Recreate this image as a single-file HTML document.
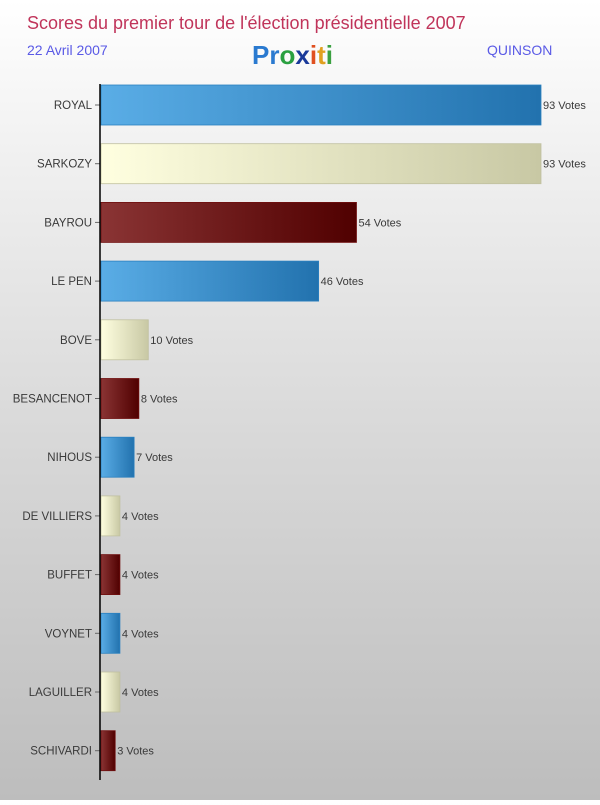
<!DOCTYPE html>
<html><head><meta charset="utf-8"><style>
body{margin:0;width:600px;height:800px;overflow:hidden;background:linear-gradient(#ffffff 0%,#f0f0f0 20%,#d8d8d8 55%,#bdbdbd 100%);font-family:"Liberation Sans",sans-serif}
</style></head><body>
<svg width="600" height="800">
<defs>
<linearGradient id="gb" x1="0" x2="1"><stop offset="0" stop-color="#5aade6"/><stop offset="1" stop-color="#2272ae"/></linearGradient>
<linearGradient id="gy" x1="0" x2="1"><stop offset="0" stop-color="#ffffe0"/><stop offset="1" stop-color="#c8c8a4"/></linearGradient>
<linearGradient id="gr" x1="0" x2="1"><stop offset="0" stop-color="#8a3434"/><stop offset="1" stop-color="#500000"/></linearGradient>
</defs>
<text x="27" y="29" font-size="18" fill="#c0345a">Scores du premier tour de l'élection présidentielle 2007</text>
<text x="27" y="55" font-size="14" fill="#5a5ae6">22 Avril 2007</text>
<text x="487" y="55" font-size="14" fill="#5a5ae6">QUINSON</text>
<g font-size="26" font-weight="bold" font-family="'Liberation Sans',sans-serif">
<text x="252" y="64"><tspan fill="#2a7ad0">P</tspan><tspan fill="#2a7ad0">r</tspan><tspan fill="#2aa040">o</tspan><tspan fill="#1a3a9a">x</tspan><tspan fill="#e05020">i</tspan><tspan fill="#e0a020">t</tspan><tspan fill="#3aa040">i</tspan></text>
</g>
<g id="bars"></g>
<line x1="100" y1="84" x2="100" y2="780" stroke="#000" stroke-width="1.5"/>
</svg>
<script>
const categories=["ROYAL","SARKOZY","BAYROU","LE PEN","BOVE","BESANCENOT","NIHOUS","DE VILLIERS","BUFFET","VOYNET","LAGUILLER","SCHIVARDI"];
const votes=[93,93,54,46,10,8,7,4,4,4,4,3];
const colorKeys=["b","y","r","b","y","r","b","y","r","b","y","r"];
const stroke={b:"#2a80c0",y:"#c0c0a0",r:"#701010"};
const x0=101,xMax=93,wMax=440;
const xs=v=>v/xMax*wMax;
const yc=i=>105+i*58.7;
const g=document.getElementById('bars');
const ns="http://www.w3.org/2000/svg";
categories.forEach((c,i)=>{
 const y=yc(i);
 const r=document.createElementNS(ns,'rect');
 r.setAttribute('x',x0);r.setAttribute('y',y-20);r.setAttribute('width',xs(votes[i]));r.setAttribute('height',40);
 r.setAttribute('fill','url(#g'+colorKeys[i]+')');r.setAttribute('stroke',stroke[colorKeys[i]]);r.setAttribute('stroke-width','0.8');
 
 
 g.appendChild(r);
 const t=document.createElementNS(ns,'text');
 t.setAttribute('x',92);t.setAttribute('y',y+4);t.setAttribute('text-anchor','end');t.setAttribute('font-size','11.5');t.setAttribute('fill','#3a3a3a');
 t.textContent=c;
 
 
 g.appendChild(t);
 const tk=document.createElementNS(ns,'line');
 tk.setAttribute('x1',95);tk.setAttribute('x2',100);tk.setAttribute('y1',y);tk.setAttribute('y2',y);tk.setAttribute('stroke','#666');
 
 
 g.appendChild(tk);
 const v=document.createElementNS(ns,'text');
 v.setAttribute('x',x0+xs(votes[i])+2);v.setAttribute('y',y+4);v.setAttribute('font-size','11');v.setAttribute('fill','#3a3a3a');
 v.textContent=votes[i]+' Votes';
 
 
 g.appendChild(v);
});
</script>
</body></html>
